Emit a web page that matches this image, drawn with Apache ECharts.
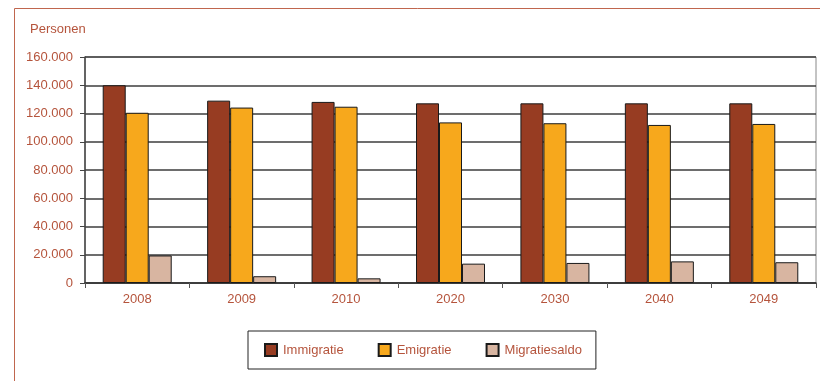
<!DOCTYPE html>
<html>
<head>
<meta charset="utf-8">
<script src="https://cdn.jsdelivr.net/npm/echarts@6/dist/echarts.min.js"></script>
<style>
html, body { margin: 0; padding: 0; background: #fff; }
#chart { width: 820px; height: 381px; }
</style>
</head>
<body>
<div id="chart"></div>
<script>
// jaren
var categories = ["2008", "2009", "2010", "2020", "2030", "2040", "2049"];
// personen per jaar
var immigratie = [140000, 129100, 128200, 127200, 127200, 127200, 127200];
var emigratie = [120500, 124200, 124800, 113700, 113100, 111900, 112600];
var migratiesaldo = [19500, 4800, 3300, 13700, 14200, 15300, 14700];

var textColor = "#b5543c";
var fontFam = "'Liberation Sans Narrow', 'Arial Narrow', 'Liberation Sans', sans-serif";

var chart = echarts.init(document.getElementById("chart"));

function thousands(v) {
  return String(v).replace(/\B(?=(\d{3})+(?!\d))/g, ".");
}

function barSeries(name, data, color) {
  return {
    name: name,
    type: "bar",
    data: data,
    barWidth: 23,
    barGap: "0%",
    itemStyle: {
      color: color,
      borderColor: "#1a1a1a",
      borderWidth: 1
    }
  };
}

var option = {
  animation: false,
  textStyle: { fontFamily: fontFam },
  graphic: [
    {
      // rode kader
      type: "rect",
      shape: { x: 14.5, y: 8.5, width: 830, height: 400 },
      style: { fill: "none", stroke: "#c0664e", lineWidth: 1 },
      silent: true
    }
  ],
  title: {
    text: "Personen",
    left: 30,
    top: 23,
    padding: 0,
    textStyle: { color: textColor, fontSize: 13, fontWeight: "normal", fontFamily: fontFam }
  },
  grid: {
    left: 85,
    right: 4,
    top: 57,
    bottom: 98,
    show: true,
    borderColor: "#888",
    borderWidth: 1
  },
  legend: {
    left: 248,
    top: 331,
    padding: [12, 14, 12, 16],
    itemGap: 34,
    itemWidth: 12,
    itemHeight: 12,
    icon: "rect",
    borderColor: "#222",
    borderWidth: 1,
    textStyle: { color: textColor, fontSize: 13, fontFamily: fontFam, padding: [0, 0, 0, 1] },
    data: ["Immigratie", "Emigratie", "Migratiesaldo"]
  },
  xAxis: {
    type: "category",
    data: categories,
    axisLine: { lineStyle: { color: "#333", width: 1.5 } },
    axisTick: { show: true, length: 5, lineStyle: { color: "#555" } },
    axisLabel: { color: textColor, fontSize: 13, margin: 10, fontFamily: fontFam },
    splitLine: { show: false }
  },
  yAxis: {
    type: "value",
    min: 0,
    max: 160000,
    interval: 20000,
    axisLine: { show: true, lineStyle: { color: "#444", width: 1.5 } },
    axisTick: { show: true, length: 5, lineStyle: { color: "#444" } },
    axisLabel: {
      color: textColor,
      fontSize: 13,
      margin: 12,
      fontFamily: fontFam,
      formatter: thousands
    },
    splitLine: { show: true, lineStyle: { color: "#3c3c3c", width: 1.5 } }
  },
  series: [
    barSeries("Immigratie", immigratie, "#973c22"),
    barSeries("Emigratie", emigratie, "#f7a81c"),
    barSeries("Migratiesaldo", migratiesaldo, "#d8b5a1")
  ]
};

chart.setOption(option);
</script>
</body>
</html>
